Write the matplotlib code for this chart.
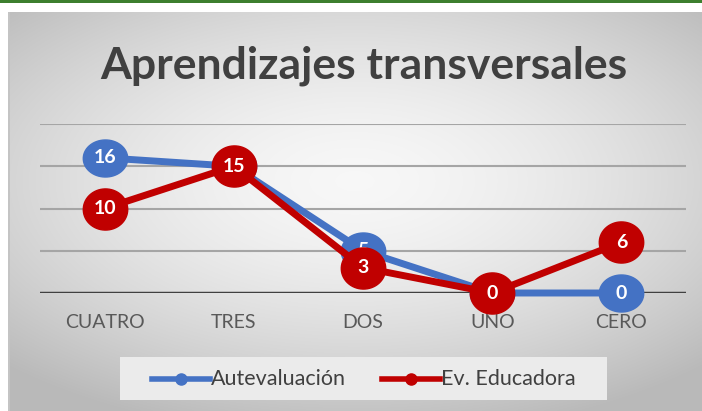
import numpy as np
import matplotlib
matplotlib.use("Agg")
import matplotlib.pyplot as plt
from matplotlib.patches import Rectangle
from matplotlib.path import Path

categories = ["CUATRO", "TRES", "DOS", "UNO", "CERO"]
autoevaluacion = [16, 15, 5, 0, 0]
educadora = [10, 15, 3, 0, 6]
series_names = ["Autevaluación", "Ev. Educadora"]
title = "Aprendizajes transversales"

W, H = 702, 411
fig = plt.figure(figsize=(W / 100, H / 100), dpi=100)
fig.patch.set_facecolor("white")

# background gradient box
bg = fig.add_axes([8 / W, 0, (W - 8) / W, (H - 12) / H], zorder=-5)
yy, xx = np.mgrid[-1:1:200j, -1:1:300j]
r = np.sqrt((xx * 0.9) ** 2 + ((yy + 0.15) * 1.0) ** 2)
val = 0.97 - 0.16 * np.clip(r, 0, 1.3) ** 1.6
bg.imshow(np.dstack([val, val, val]), aspect="auto", extent=[0, 1, 0, 1], interpolation="bilinear")
bg.set_axis_off()

# green top band
fig.patches.append(Rectangle((0, 1 - 3 / H), 1, 3 / H, transform=fig.transFigure,
                             facecolor="#3d7f2f", edgecolor="none", zorder=-4))
fig.patches.append(Rectangle((8 / W, 0), 2 / W, (H - 12) / H, transform=fig.transFigure,
                             facecolor="#c4c4c4", edgecolor="none", zorder=-3))

# ellipse markers (wider than tall, as in the reference)
t = np.linspace(0, 2 * np.pi, 64)
ellipse_b = Path(np.column_stack([1.2 * np.cos(t), np.sin(t)]), closed=True)
ellipse_r = Path(np.column_stack([1.08 * np.cos(t), np.sin(t)]), closed=True)

ax = fig.add_axes([40 / W, (H - 293) / H, (686 - 40) / W, (293 - 124) / H])
ax.patch.set_alpha(0)
x = np.arange(len(categories))
ax.set_xlim(-0.5, 4.5)
ax.set_ylim(0, 20)
for g in [5, 10, 15, 20]:
    ax.axhline(g, color="#a5a5a5", lw=1.5, zorder=1)
ax.axhline(0, color="#404040", lw=2.5, zorder=2)
for s in ax.spines.values():
    s.set_visible(False)
ax.set_yticks([])
ax.set_xticks(x)
ax.set_xticklabels(categories, fontsize=14, color="#595959", family="Lato")
ax.tick_params(axis="x", length=0, pad=15)

blue = "#4472C4"
red = "#C00000"
ax.plot(x, autoevaluacion, color=blue, lw=5, marker=ellipse_b, ms=32, mfc=blue, mec=blue,
        zorder=3, clip_on=False, solid_capstyle="round")
for xi, v in zip(x, autoevaluacion):
    ax.text(xi, v, str(v), ha="center", va="center", color="white", fontsize=14,
            fontweight="bold", family="Lato", zorder=4)
ax.plot(x, educadora, color=red, lw=5, marker=ellipse_r, ms=32, mfc=red, mec=red,
        zorder=5, clip_on=False, solid_capstyle="round")
for xi, v in zip(x, educadora):
    ax.text(xi, v, str(v), ha="center", va="center", color="white", fontsize=14,
            fontweight="bold", family="Lato", zorder=6)

fig.text(364 / W, 1 - 66 / H, title, ha="center", va="center", fontsize=32,
         fontweight="bold", color="#404040", family="Lato")

# legend
fig.patches.append(Rectangle((120 / W, 1 - 400 / H), 487 / W, 43 / H, transform=fig.transFigure,
                             facecolor="#ebebeb", edgecolor="none", zorder=1))
ly = 1 - 379 / H
for (x0, col, name) in [(152, blue, series_names[0]), (382, red, series_names[1])]:
    fig.lines.append(plt.Line2D([x0 / W, (x0 + 58) / W], [ly, ly], transform=fig.transFigure,
                                color=col, lw=4, zorder=2))
    fig.lines.append(plt.Line2D([(x0 + 29) / W], [ly], transform=fig.transFigure, marker="o",
                                ms=8, color=col, zorder=3))
    fig.text((x0 + 59) / W, ly, name, ha="left", va="center", fontsize=15.5,
             color="#404040", family="Lato", zorder=3)

fig.savefig("out.png", dpi=100)
